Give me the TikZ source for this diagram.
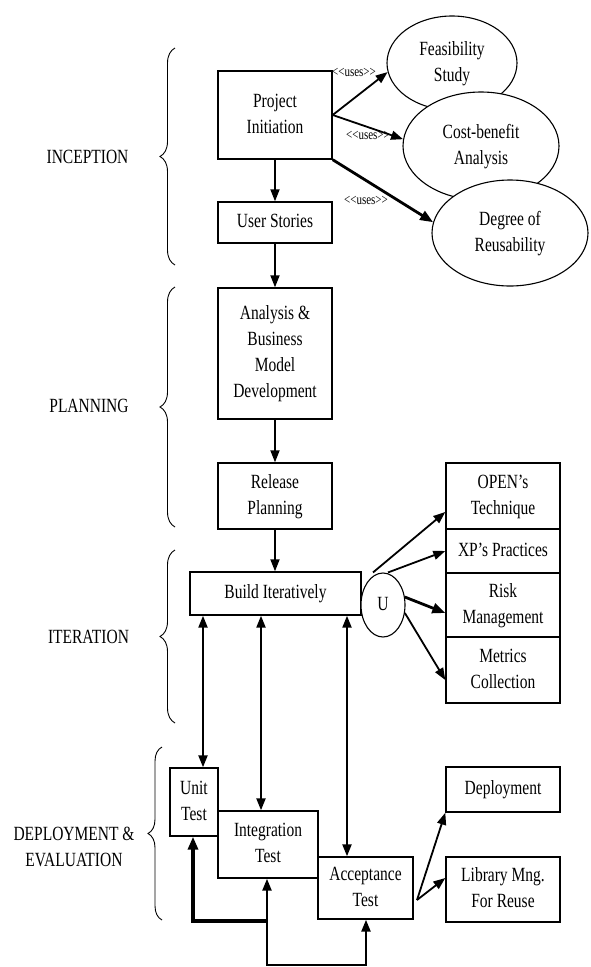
\documentclass[tikz,border=0pt]{standalone}
\usepackage{fontspec}
\setmainfont{Liberation Serif}
\usepackage{graphicx}
\usetikzlibrary{arrows.meta,decorations.pathreplacing,shapes.geometric,calc}
\newcommand{\st}[1]{\scalebox{1}[1.3]{\begin{tabular}{@{}c@{}}#1\end{tabular}}}
\newcommand{\uses}{\scalebox{1}[1.3]{<\kern0pt<uses>\kern0pt>}}
\begin{document}
\begin{tikzpicture}[x=1pt,y=-1pt, font=\fontsize{15.5}{20}\selectfont,
 box/.style={draw, line width=1.4pt, inner sep=0pt, fill=white},
 oval/.style={draw, ellipse, line width=1.1pt, fill=white, inner sep=0pt},
 arr/.style={line width=1.8pt, -{Triangle[length=12pt,width=9pt]}},
 tarr/.style={line width=2.8pt, -{Triangle[length=13pt,width=10pt]}},
 darr/.style={line width=2.2pt, {Triangle[length=12pt,width=9pt]}-{Triangle[length=12pt,width=9pt]}},
 brc/.style={decorate, decoration={brace, amplitude=15pt}, line width=0.9pt},
 lbl/.style={font=\fontsize{11}{13}\selectfont, inner sep=0pt},
 phase/.style={inner sep=0pt, align=center}
]
\useasboundingbox (0,0) rectangle (590,967);

% phase labels and braces
\node[phase] (lin) at (87.5,158) {\st{INCEPTION}};
\node[phase] (lpl) at (89,407) {\st{PLANNING}};
\node[phase] (lit) at (88.5,638) {\st{ITERATION}};
\node[phase] (lde) at (74,848) {\st{DEPLOYMENT \&\\EVALUATION}};
\draw[brc] (175,265) -- (175,48);
\draw[brc] (175,527) -- (175,287);
\draw[brc] (175,723) -- (175,550);
\draw[brc, decoration={brace, amplitude=14pt}] (162,920) -- (162,747);

% ellipses
\node[oval, minimum width=130pt, minimum height=94pt] (fs) at (452,63) {\st{Feasibility\\Study}};
\node[oval, minimum width=156pt, minimum height=108pt] (cb) at (481,146) {\st{Cost-benefit\\Analysis}};
\node[oval, minimum width=156pt, minimum height=106pt] (dg) at (510,233) {\st{Degree of\\Reusability}};

% main boxes
\node[box, minimum width=114pt, minimum height=88pt] (pi) at (275,115) {\st{Project\\Initiation}};
\node[box, minimum width=114pt, minimum height=41pt] (us) at (275,222.5) {\st{User Stories}};
\node[box, minimum width=114pt, minimum height=131pt] (an) at (275,353.5) {\st{Analysis \&\\Business\\Model\\Development}};
\node[box, minimum width=114pt, minimum height=66pt] (rp) at (275,496) {\st{Release\\Planning}};
\node[box, minimum width=171pt, minimum height=43pt] (bi) at (275.5,593.5) {\st{Build Iteratively}};
\node[oval, minimum width=44pt, minimum height=64pt] (u) at (383,605) {\st{U}};

\node[box, minimum width=114pt, minimum height=66pt] (open) at (503,496) {\st{OPEN’s\\Technique}};
\node[box, minimum width=114pt, minimum height=44pt] (xp) at (503,551) {\st{XP’s Practices}};
\node[box, minimum width=114pt, minimum height=64pt] (risk) at (503,605) {\st{Risk\\Management}};
\node[box, minimum width=114pt, minimum height=66pt] (met) at (503,670) {\st{Metrics\\Collection}};

\node[box, minimum width=48pt, minimum height=68pt] (ut) at (194,802) {\st{Unit\\Test}};
\node[box, minimum width=100pt, minimum height=67pt] (it) at (268,844.5) {\st{Integration\\Test}};
\node[box, minimum width=95pt, minimum height=62pt] (at) at (365.5,888) {\st{Acceptance\\Test}};
\node[box, minimum width=114pt, minimum height=45pt] (dep) at (503,789.5) {\st{Deployment}};
\node[box, minimum width=114pt, minimum height=65pt] (lib) at (503,889.5) {\st{Library Mng.\\For Reuse}};

% inception connectors
\draw[arr] (pi.east) -- (fs.188);
\draw[arr] (pi.east) -- (cb.175);
\draw[tarr] (pi.south east) -- (dg.172);
\node[lbl] (u1) at (354,72) {\uses};
\node[lbl] (u2) at (368,135) {\uses};
\node[lbl] (u3) at (366,200) {\uses};

% vertical flow
\draw[arr] (pi.south) -- (us.north);
\draw[arr] (us.south) -- (an.north);
\draw[arr] (an.south) -- (rp.north);
\draw[arr] (rp.south) -- (rp.south |- bi.north);

% U to technique boxes
\draw[arr] ([xshift=-10pt]u.north) -- ([yshift=-16pt]open.west);
\draw[arr] ([xshift=5pt]u.north) -- (xp.west);
\draw[tarr] (u.20) -- ([yshift=-8pt]risk.west);
\draw[arr] (u.-20) -- ([yshift=-10pt]met.west);

% build <-> tests
\coordinate (x1) at (203,0);
\coordinate (x2) at (261,0);
\coordinate (x3) at (347,0);
\draw[darr] (bi.south -| x1) -- (ut.north -| x1);
\draw[darr] (bi.south -| x2) -- (it.north -| x2);
\draw[darr] (bi.south -| x3) -- (at.north -| x3);

% feedback loop
\coordinate (fb1) at (267,965);
\coordinate (fb2) at (366,965);
\coordinate (fbj) at (267,921);
\coordinate (fb3) at (193,921);
\draw[darr, line width=2.4pt] (it.south -| fb1) -- (fb1) -- (fb2) -- (at.south -| fb2);
\draw[tarr, line width=3.2pt] (fbj) -- (fb3) -- (ut.south -| fb3);

% acceptance outputs
\coordinate (ao) at (417,900);
\draw[arr] (ao) -- (dep.south west);
\draw[arr] (ao) -- ([yshift=11.5pt]lib.west);
\end{tikzpicture}
\end{document}
